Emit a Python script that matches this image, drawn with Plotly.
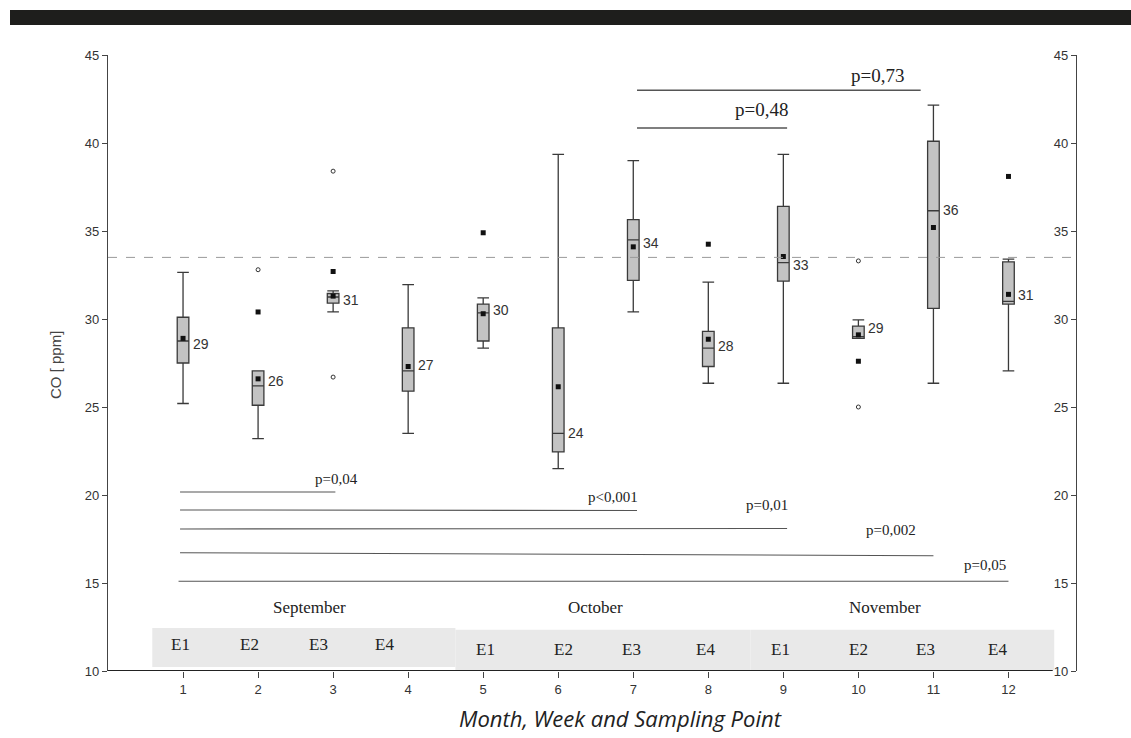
import plotly.graph_objects as go

# ---- data ----
points = list(range(1, 13))
q1 = [27.5, 25.1, 30.9, 25.9, 28.75, 22.45, 32.2, 27.3, 32.15, 28.9, 30.6, 30.85]
median = [28.75, 26.2, 31.25, 27.05, 30.35, 23.5, 34.5, 28.35, 33.2, 29.0, 36.15, 31.0]
q3 = [30.1, 27.05, 31.45, 29.5, 30.85, 29.5, 35.65, 29.3, 36.4, 29.6, 40.1, 33.25]
lowerfence = [25.2, 23.2, 30.4, 23.5, 28.35, 21.5, 30.4, 26.35, 26.35, 28.9, 26.35, 27.05]
upperfence = [32.65, 27.05, 31.6, 31.95, 31.2, 39.35, 39.0, 32.1, 39.35, 29.95, 42.15, 33.4]
means = [28.9, 26.6, 31.3, 27.3, 30.3, 26.15, 34.1, 28.85, 33.55, 29.1, 35.2, 31.4]
mean_labels = ["29", "26", "31", "27", "30", "24", "34", "28", "33", "29", "36", "31"]
label_y = [28.6, 26.5, 31.1, 27.4, 30.5, 23.5, 34.3, 28.45, 33.05, 29.5, 36.2, 31.35]

far_x = [2, 3, 5, 8, 10, 12]
far_y = [30.4, 32.7, 34.9, 34.25, 27.6, 38.1]
near_x = [2, 3, 3, 10, 10]
near_y = [32.8, 38.4, 26.7, 33.3, 25.0]

threshold = 33.5

# p-value brackets
p_x0 = [0.96, 0.96, 0.96, 0.96, 0.94, 7.05, 7.05]
p_x1 = [3.03, 7.05, 9.05, 11.0, 12.0, 9.05, 10.83]
p_y0 = [20.17, 19.15, 18.07, 16.72, 15.1, 40.85, 43.0]
p_y1 = [20.17, 19.12, 18.1, 16.55, 15.1, 40.85, 43.0]
p_text = ["p=0,04", "p<0,001", "p=0,01", "p=0,002", "p=0,05", "p=0,48", "p=0,73"]
p_tx = [3.36, 7.09, 9.09, 10.8, 11.99, 9.09, 10.63]
p_ty = [20.9, 19.9, 19.45, 18.0, 16.0, 41.9, 43.85]
p_size = [15, 15, 15, 15, 15, 19, 19]

months = ["September", "October", "November"]
month_x = [2.68, 6.49, 10.35]
month_y = 13.58
band_x0 = [0.59, 4.63, 8.56]
band_x1 = [4.63, 8.56, 12.61]
band_y0 = [10.23, 10.06, 10.06]
band_y1 = [12.44, 12.35, 12.35]

e_labels = ["E1", "E2", "E3", "E4"] * 3
e_x = [0.96, 1.89, 2.8, 3.68, 5.03, 6.07, 6.97, 7.96, 8.96, 10.0, 10.9, 11.85]
e_y = [11.48] * 4 + [11.2] * 8

NARROW = "Liberation Sans Narrow, Liberation Sans, Arial, sans-serif"
SERIF = "Liberation Serif, Times New Roman, serif"

fig = go.Figure()

shapes = []
for a, b, c, d in zip(band_x0, band_x1, band_y0, band_y1):
    shapes.append(dict(type="rect", xref="x", yref="y", x0=a, x1=b, y0=c, y1=d,
                       fillcolor="#e9e9e9", line=dict(width=0), layer="below"))

fig.add_trace(go.Box(
    x=points, q1=q1, median=median, q3=q3, lowerfence=lowerfence, upperfence=upperfence,
    boxpoints=False, width=0.155, whiskerwidth=1,
    fillcolor="#c3c3c3", line=dict(color="#3a3a3a", width=1.3),
    showlegend=False, hoverinfo="skip"))

fig.add_trace(go.Scatter(x=points, y=means, mode="markers",
                         marker=dict(symbol="square", size=5, color="#111"),
                         showlegend=False, hoverinfo="skip"))
fig.add_trace(go.Scatter(x=far_x, y=far_y, mode="markers",
                         marker=dict(symbol="square", size=5, color="#111"),
                         showlegend=False, hoverinfo="skip"))
fig.add_trace(go.Scatter(x=near_x, y=near_y, mode="markers",
                         marker=dict(symbol="circle-open", size=4, color="#333",
                                     line=dict(width=1)),
                         showlegend=False, hoverinfo="skip"))
fig.add_trace(go.Scatter(x=[1], y=[20], yaxis="y2", mode="markers",
                         marker=dict(opacity=0), showlegend=False, hoverinfo="skip"))

shapes.append(dict(type="line", xref="x", yref="y", x0=0, x1=12.9, y0=threshold, y1=threshold,
                   line=dict(color="#9a9a9a", width=1, dash="dash")))
shapes.append(dict(type="line", xref="x", yref="y", x0=0, x1=12.59, y0=10, y1=10,
                   line=dict(color="#222", width=2)))
for a, b, c, d, s in zip(p_x0, p_x1, p_y0, p_y1, p_size):
    shapes.append(dict(type="line", xref="x", yref="y", x0=a, x1=b, y0=c, y1=d,
                       line=dict(color="#555", width=1.6 if s > 15 else 1.1)))
shapes.append(dict(type="rect", xref="paper", yref="paper",
                   x0=(10 - 108) / 968, x1=(1131 - 108) / 968,
                   y0=(671 - 25) / 616, y1=(671 - 10) / 616,
                   fillcolor="#1e1e1c", line=dict(width=0)))

annotations = []
for xv, yv, t in zip(points, label_y, mean_labels):
    annotations.append(dict(x=xv + 0.1, y=yv, text=t, showarrow=False, xanchor="left",
                            yanchor="middle", font=dict(family=NARROW, size=14, color="#333")))
for t, xv, yv, s in zip(p_text, p_tx, p_ty, p_size):
    annotations.append(dict(x=xv, y=yv, text=t, showarrow=False, xanchor="right",
                            yanchor="middle", font=dict(family=SERIF, size=s, color="#222")))
for t, xv in zip(months, month_x):
    annotations.append(dict(x=xv, y=month_y, text=t, showarrow=False, xanchor="center",
                            yanchor="middle", font=dict(family=SERIF, size=17, color="#222")))
for t, xv, yv in zip(e_labels, e_x, e_y):
    annotations.append(dict(x=xv, y=yv, text=t, showarrow=False, xanchor="center",
                            yanchor="middle", font=dict(family=SERIF, size=17, color="#222")))
annotations.append(dict(xref="paper", yref="paper", x=(620 - 108) / 968, y=(671 - 718) / 616,
                        text="<i>Month, Week and Sampling Point</i>", showarrow=False,
                        xanchor="center", yanchor="middle",
                        font=dict(family="Open Sans, Noto Sans, sans-serif", size=22, color="#222")))
annotations.append(dict(xref="paper", yref="paper", x=(55 - 108) / 968, y=(671 - 365) / 616,
                        text="CO [ ppm]", textangle=-90, showarrow=False,
                        xanchor="center", yanchor="middle",
                        font=dict(family="Liberation Sans, Arial, sans-serif", size=15, color="#444")))

fig.update_layout(
    width=1131, height=738,
    margin=dict(l=108, r=55, t=55, b=67),
    paper_bgcolor="white", plot_bgcolor="white",
    showlegend=False,
    shapes=shapes, annotations=annotations,
    xaxis=dict(range=[0, 12.9], tickvals=points, ticktext=[str(p) for p in points],
               ticks="outside", ticklen=6, tickcolor="#444", tickwidth=1,
               showline=False, showgrid=False, zeroline=False,
               tickfont=dict(family=NARROW, size=13, color="#333")),
    yaxis=dict(range=[10, 45], dtick=5, ticks="outside", ticklen=5, tickcolor="#444",
               showline=True, linecolor="#444", linewidth=1.2, showgrid=False, zeroline=False,
               tickfont=dict(family=NARROW, size=13, color="#333")),
    yaxis2=dict(range=[10, 45], dtick=5, overlaying="y", side="left", anchor="free",
                position=1.0, ticks="outside", ticklen=5, tickcolor="#444",
                showline=True, linecolor="#444", linewidth=1.2, showgrid=False, zeroline=False,
                tickfont=dict(family=NARROW, size=13, color="#333")),
)

fig.write_html("out.html", config={"displayModeBar": False},
               post_script="document.body.style.margin='0';")
